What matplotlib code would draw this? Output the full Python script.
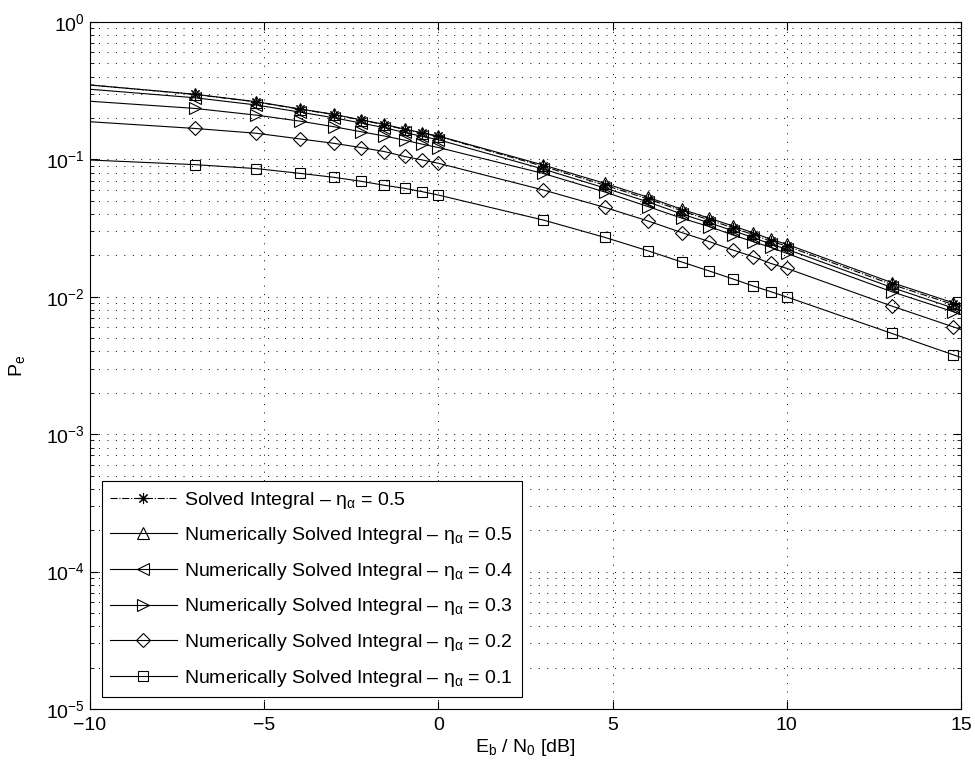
import numpy as np
import matplotlib
matplotlib.use("Agg")
import matplotlib.pyplot as plt

plt.rcParams['font.family'] = ['Liberation Sans', 'DejaVu Sans']
plt.rcParams['mathtext.fontset'] = 'custom'
plt.rcParams['mathtext.rm'] = 'Liberation Sans'
plt.rcParams['mathtext.it'] = 'Liberation Sans'
plt.rcParams['mathtext.default'] = 'regular'

# Eb/N0 in dB; first and last entries are where the curves meet the axes (no marker)
snr_db = [-10, -6.99, -5.23, -3.98, -3.01, -2.22, -1.55, -0.97, -0.46, 0,
          3.01, 4.77, 6.02, 6.99, 7.78, 8.45, 9.03, 9.54, 10, 13.01, 14.77, 15]

pe_solved = [0.348, 0.297, 0.262, 0.232, 0.212, 0.193, 0.179, 0.165, 0.155, 0.147,
             0.089, 0.065, 0.0515, 0.0422, 0.0362, 0.0318, 0.0284, 0.0254, 0.0234,
             0.0123, 0.0088, 0.0084]
pe_05 = [0.348, 0.298, 0.263, 0.233, 0.213, 0.194, 0.180, 0.166, 0.156, 0.148,
         0.091, 0.067, 0.053, 0.0433, 0.0373, 0.0328, 0.0293, 0.0262, 0.0241,
         0.0127, 0.00906, 0.00867]
pe_04 = [0.324, 0.281, 0.249, 0.221, 0.201, 0.184, 0.170, 0.157, 0.147, 0.139,
         0.085, 0.062, 0.049, 0.040, 0.0345, 0.0303, 0.027, 0.0242, 0.0222,
         0.0117, 0.0083, 0.0080]
pe_03 = [0.265, 0.235, 0.210, 0.190, 0.173, 0.159, 0.148, 0.138, 0.129, 0.122,
         0.079, 0.058, 0.0453, 0.0373, 0.0324, 0.0282, 0.0252, 0.0229, 0.0207,
         0.0109, 0.0078, 0.00745]
pe_02 = [0.188, 0.168, 0.155, 0.141, 0.131, 0.122, 0.114, 0.105, 0.099, 0.0937,
         0.0599, 0.0448, 0.0356, 0.0293, 0.0252, 0.0219, 0.0196, 0.0175, 0.0161,
         0.00857, 0.00605, 0.00578]
pe_01 = [0.099, 0.0916, 0.0857, 0.0792, 0.0741, 0.0693, 0.0648, 0.0616, 0.0582, 0.055,
         0.0362, 0.0271, 0.0216, 0.0179, 0.0154, 0.0135, 0.012, 0.0109, 0.00997,
         0.00542, 0.00379, 0.00362]

labels = [
    r'Solved Integral – $\eta_\alpha$ = 0.5',
    r'Numerically Solved Integral – $\eta_\alpha$ = 0.5',
    r'Numerically Solved Integral – $\eta_\alpha$ = 0.4',
    r'Numerically Solved Integral – $\eta_\alpha$ = 0.3',
    r'Numerically Solved Integral – $\eta_\alpha$ = 0.2',
    r'Numerically Solved Integral – $\eta_\alpha$ = 0.1',
]

fs = 14

fig = plt.figure(figsize=(9.75, 7.64), dpi=100)
ax = fig.add_axes([90 / 975, 55 / 764, 871 / 975, 687 / 764])

marks = list(range(1, len(snr_db) - 1))
common = dict(color='k', lw=0.8, mfc='none', mec='k', mew=0.8, markevery=marks)

# MATLAB-style asterisk: 8 spokes
ax.plot(snr_db, pe_solved, '-.', marker=(8, 2, 0), ms=8, label=labels[0], **common)
ax.plot(snr_db, pe_05, '-', marker='^', ms=9, label=labels[1], **common)
ax.plot(snr_db, pe_04, '-', marker='<', ms=9, label=labels[2], **common)
ax.plot(snr_db, pe_03, '-', marker='>', ms=9, label=labels[3], **common)
ax.plot(snr_db, pe_02, '-', marker='D', ms=7, label=labels[4], **common)
ax.plot(snr_db, pe_01, '-', marker='s', ms=7, label=labels[5], **common)

ax.set_yscale('log')
ax.set_xlim(-10, 15)
ax.set_ylim(1e-5, 1)
ax.set_xticks([-10, -5, 0, 5, 10, 15])

dots = (0, (1, 7.7))
ax.grid(True, which='major', axis='x', color='k', lw=0.7, linestyle=dots)
ax.grid(True, which='both', axis='y', color='k', lw=0.7, linestyle=dots)
ax.tick_params(which='both', direction='in', top=True, right=True, labelsize=fs)
ax.tick_params(which='major', length=6, width=0.8)
ax.tick_params(which='minor', length=3, width=0.6)
ax.tick_params(axis='x', pad=6)
for s in ax.spines.values():
    s.set_linewidth(0.8)

ax.set_xlabel(r'E$_b$ / N$_0$ [dB]', fontsize=fs, labelpad=2)
ax.set_ylabel(r'P$_e$', fontsize=fs, labelpad=14)

leg = ax.legend(loc='lower left', fontsize=fs, handlelength=3.4, handletextpad=0.4,
                labelspacing=0.75, borderpad=0.45, borderaxespad=0.6,
                fancybox=False, edgecolor='k', framealpha=1)
leg.get_frame().set_linewidth(0.8)

fig.savefig('out.png', dpi=100)
